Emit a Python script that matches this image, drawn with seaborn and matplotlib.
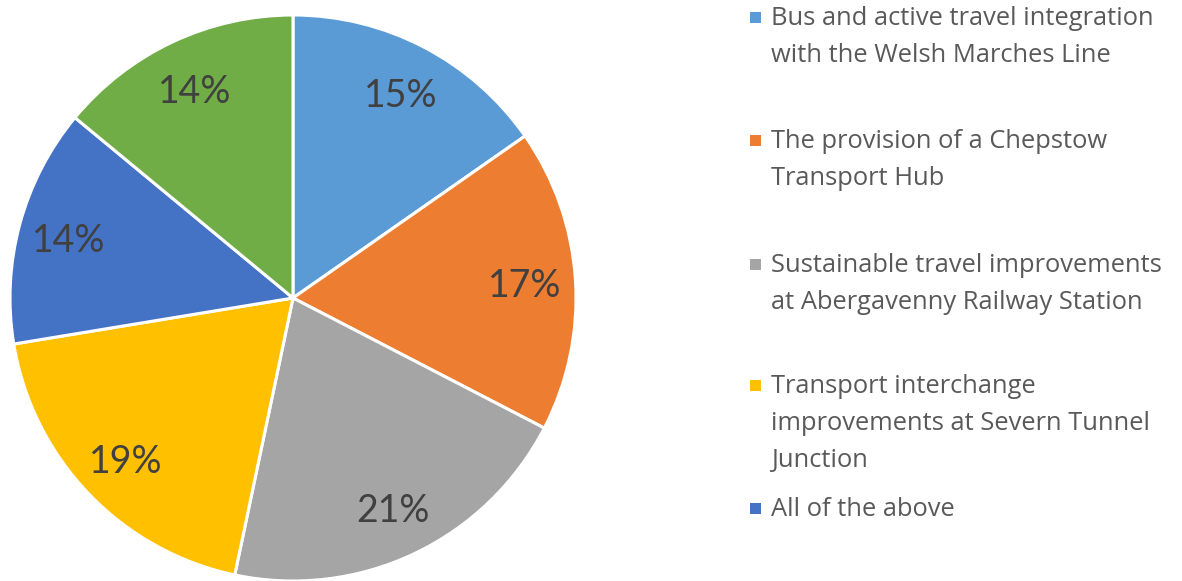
import matplotlib
matplotlib.use("Agg")
import matplotlib.pyplot as plt
import seaborn as sns
from matplotlib.patches import Rectangle

sns.set_theme(style="white")
plt.rcParams['font.family'] = ['Lato', 'DejaVu Sans']

# Data
categories = [
    "Bus and active travel integration\nwith the Welsh Marches Line",
    "The provision of a Chepstow\nTransport Hub",
    "Sustainable travel improvements\nat Abergavenny Railway Station",
    "Transport interchange\nimprovements at Severn Tunnel\nJunction",
    "All of the above",
    "Other",
]
values = [15.3, 17.3, 20.7, 19.1, 13.6, 14.0]
colors = ["#5B9BD5", "#ED7D31", "#A5A5A5", "#FFC000", "#4472C4", "#70AD47"]
legend_shown = 5

W, H = 1182, 581
fig = plt.figure(figsize=(W / 100, H / 100), dpi=100)
fig.patch.set_facecolor("white")

cx, cy, r = 293, 298, 283
ax = fig.add_axes([(cx - r) / W, (H - cy - r) / H, 2 * r / W, 2 * r / H])
wedges, _, autotexts = ax.pie(
    values, colors=colors, startangle=90, counterclock=False,
    autopct=lambda p: f"{p:.0f}%", pctdistance=0.82, radius=1.0,
    wedgeprops=dict(edgecolor="white", linewidth=2.2),
    textprops=dict(fontsize=27, color="#404040"),
)
for t in autotexts:
    t.set_va("center_baseline")
ax.set_xlim(-1.0, 1.0)
ax.set_ylim(-1.0, 1.0)
ax.set_aspect("equal")
ax.axis("off")

# Legend (manual, marker aligned with first line)
first_baselines = [25, 148, 272, 393, 516]
line_step = 37
text_x = 771
for i in range(legend_shown):
    b = first_baselines[i]
    sq = 11
    fig.patches.append(Rectangle((750 / W, (H - b + 2) / H), sq / W, sq / H,
                                 transform=fig.transFigure, facecolor=colors[i],
                                 edgecolor="none"))
    for j, line in enumerate(categories[i].split("\n")):
        fig.text(text_x / W, (H - (b + j * line_step)) / H, line,
                 fontsize=18.4, color="#595959", va="baseline", ha="left",
                 family=["Open Sans", "DejaVu Sans"])

fig.savefig("out.png", dpi=100, facecolor="white")
